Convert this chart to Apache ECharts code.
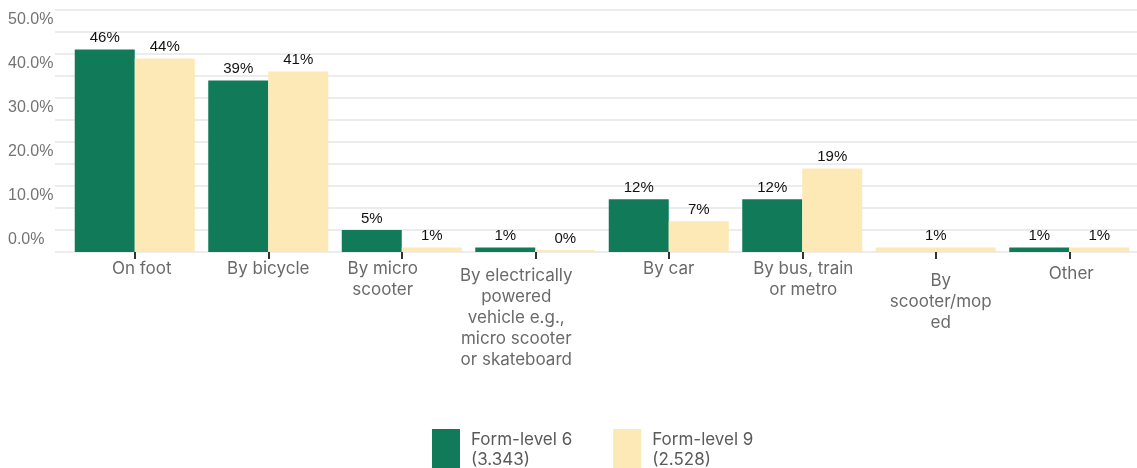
<!DOCTYPE html>
<html>
<head>
<meta charset="utf-8">
<script src="https://cdn.jsdelivr.net/npm/echarts@6/dist/echarts.min.js"></script>
<style>
  html, body { margin: 0; padding: 0; background: #ffffff; }
  #chart { width: 1137px; height: 468px; }
</style>
</head>
<body>
<div id="chart"></div>
<script>
// Way of travelling to school, share of pupils per form level
const categoryLabels = [
  'On foot',
  'By bicycle',
  'By micro\nscooter',
  'By electrically\npowered\nvehicle e.g.,\nmicro scooter\nor skateboard',
  'By car',
  'By bus, train\nor metro',
  'By\nscooter/mop\ned',
  'Other'
];
const seriesNames = ['Form-level 6', 'Form-level 9'];
const sampleSizes = ['(3.343)', '(2.528)'];
const level6 = [46, 39, 5, 1, 12, 12, null, 1];
const level9 = [44, 41, 1, 0, 7, 19, 1, 1];
const yTicks = [0, 10, 20, 30, 40, 50];

const GREEN = '#117a58';
const YELLOW = '#fce9b6';
const LABEL_FONT = 'Inter, Lato, sans-serif';

// Small per-label nudges [dx, dy] in px for the category captions
const labelNudge = [[7, 0], [0, 0], [-19, 0], [-19, 7], [0, 0], [1, 0], [5, 12], [2, 5]];

const axisCategories = categoryLabels.map((text, i) => {
  const [dx, dy] = labelNudge[i];
  return {
    value: text,
    textStyle: { padding: [dy, dx < 0 ? -2 * dx : 0, 0, dx > 0 ? 2 * dx : 0] }
  };
});

const valueLabel = {
  show: true,
  position: 'top',
  distance: 4,
  color: '#111111',
  fontFamily: '"Liberation Sans", Arial, sans-serif',
  fontSize: 15,
  formatter: p => Math.round(p.value) + '%'
};

// A category without a form-level 6 answer shows one merged form-level 9 bar
const level6Data = level6.map((v, i) => v === null
  ? { value: level9[i], itemStyle: { color: YELLOW }, label: { show: false } }
  : v);
const level9Data = level9.map((v, i) => level6[i] === null
  ? { value: v, label: { offset: [-30, 0] } }
  : v);

const chart = echarts.init(document.getElementById('chart'), null, { renderer: 'canvas' });
chart.setOption({
  animation: false,
  backgroundColor: '#ffffff',
  grid: [
    { left: 55, right: 0, top: 10, bottom: 216 },
    { left: 68, right: 1, top: 10, bottom: 216 }
  ],
  legend: {
    left: 432,
    top: 429,
    padding: 0,
    itemWidth: 28,
    itemHeight: 42,
    itemGap: 41,
    itemStyle: { borderWidth: 0 },
    icon: 'rect',
    data: seriesNames,
    formatter: name => name + '\n' + sampleSizes[seriesNames.indexOf(name)],
    textStyle: {
      fontFamily: LABEL_FONT,
      fontSize: 17,
      lineHeight: 20,
      color: '#5a5a5a',
      padding: [0, 0, 0, 6]
    }
  },
  xAxis: [
    { gridIndex: 0, type: 'category', data: categoryLabels, show: false },
    {
      gridIndex: 1,
      type: 'category',
      data: axisCategories,
      axisLine: { show: false },
      axisTick: { show: true, alignWithLabel: true, length: 7, lineStyle: { color: '#333333', width: 2 } },
      axisLabel: {
        interval: 0,
        margin: 6,
        color: '#6a6a6a',
        fontFamily: LABEL_FONT,
        fontSize: 17,
        lineHeight: 21,
        align: 'center'
      }
    }
  ],
  yAxis: [
    {
      gridIndex: 0,
      type: 'value',
      min: 0,
      max: 55,
      interval: 5,
      axisLine: { show: false },
      axisTick: { show: false },
      splitLine: { show: true, lineStyle: { color: '#ececec', width: 2 } },
      axisLabel: {
        align: 'left',
        verticalAlign: 'bottom',
        margin: 47,
        padding: [0, 0, 4, 0],
        color: '#737373',
        fontFamily: '"Liberation Sans", Arial, sans-serif',
        fontSize: 16,
        formatter: v => yTicks.includes(v) ? v.toFixed(1) + '%' : ''
      }
    },
    {
      gridIndex: 1,
      type: 'value',
      min: 0,
      max: 55,
      interval: 5,
      show: false,
      splitLine: { show: false }
    }
  ],
  series: [
    {
      name: seriesNames[0],
      type: 'bar',
      xAxisIndex: 1,
      yAxisIndex: 1,
      data: level6Data,
      barWidth: 60,
      barGap: '0%',
      barMinHeight: 2,
      itemStyle: { color: GREEN },
      label: valueLabel
    },
    {
      name: seriesNames[1],
      type: 'bar',
      xAxisIndex: 1,
      yAxisIndex: 1,
      data: level9Data,
      barWidth: 60,
      barGap: '0%',
      barMinHeight: 2,
      itemStyle: { color: YELLOW },
      label: valueLabel
    }
  ]
});
</script>
</body>
</html>
